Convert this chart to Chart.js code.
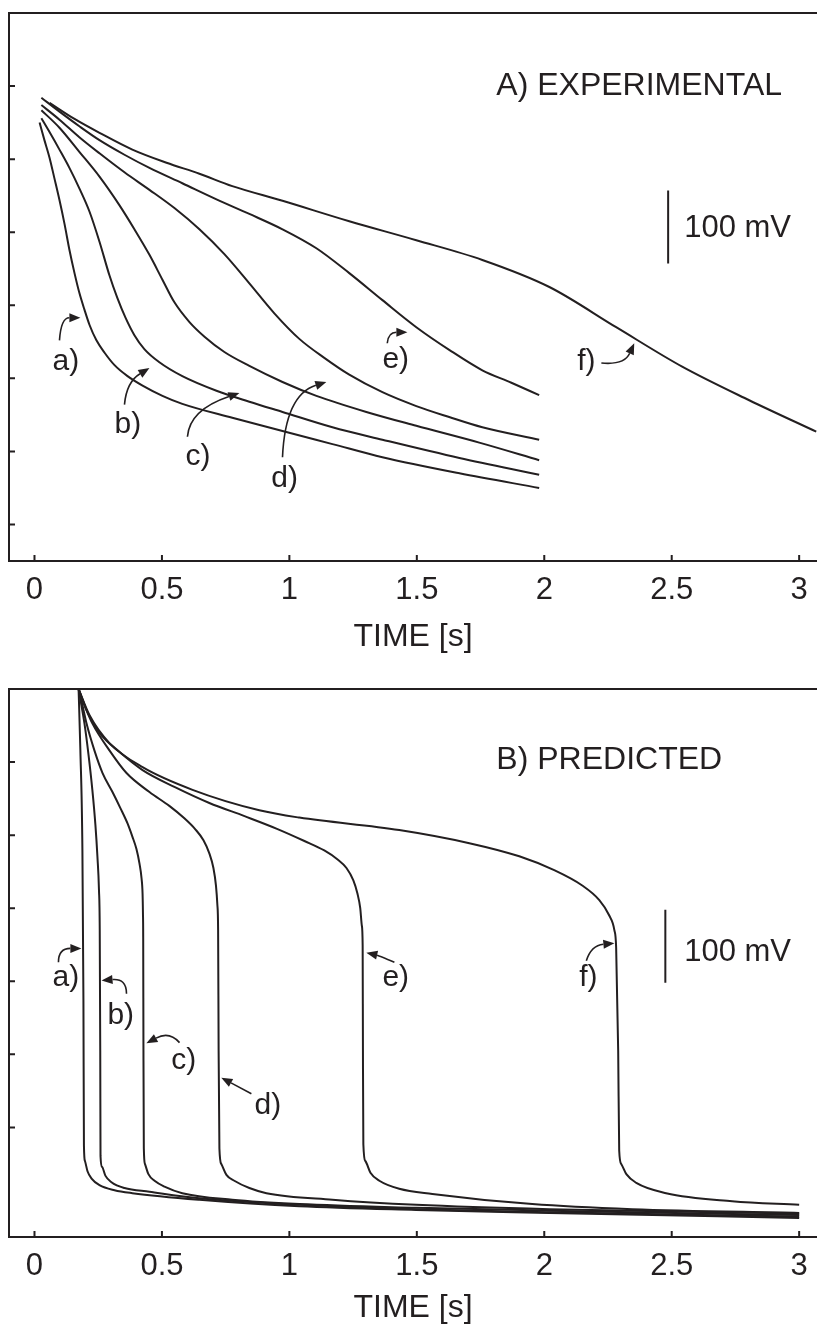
<!DOCTYPE html>
<html>
<head>
<meta charset="utf-8">
<script src="https://cdn.jsdelivr.net/npm/chart.js@4.4.1/dist/chart.umd.min.js"></script>
<style>
  body { margin: 0; background: #fff; }
  .box { position: absolute; left: 0; width: 817px; height: 665px; }
</style>
</head>
<body>
<div class="box" style="top:0"><canvas id="expChart" width="817" height="665"></canvas></div>
<div class="box" style="top:665px"><canvas id="predChart" width="817" height="665"></canvas></div>
<script>
// axis ticks
var timeTicks = [0, 0.5, 1, 1.5, 2, 2.5, 3];
var expVoltTicks = [-100, -200, -300, -400, -500, -600, -700];
var predVoltTicks = [-100, -200, -300, -400, -500, -600];

// A) experimental curves, [time s, potential mV]
var expA = [[0.020,-150],[0.039,-174],[0.059,-198],[0.078,-226],[0.098,-256],[0.118,-289],[0.137,-324],[0.157,-356],[0.176,-383],[0.196,-406],[0.216,-427],[0.243,-448],[0.275,-465],[0.314,-482],[0.365,-497],[0.424,-510],[0.502,-524],[0.580,-535],[0.776,-554],[0.973,-572],[1.169,-590],[1.365,-608],[1.667,-630],[1.980,-650]];
var expB = [[0.027,-144],[0.059,-163],[0.098,-187],[0.137,-212],[0.176,-240],[0.216,-272],[0.255,-313],[0.294,-359],[0.325,-390],[0.357,-417],[0.392,-441],[0.431,-460],[0.490,-478],[0.580,-497],[0.714,-517],[0.843,-532],[0.973,-546],[1.169,-567],[1.365,-584],[1.667,-609],[1.980,-632]];
var expC = [[0.027,-133],[0.098,-157],[0.176,-190],[0.255,-224],[0.333,-263],[0.392,-296],[0.451,-331],[0.502,-365],[0.549,-396],[0.608,-423],[0.667,-443],[0.745,-464],[0.843,-483],[0.973,-505],[1.106,-524],[1.302,-546],[1.498,-565],[1.745,-588],[1.980,-612]];
var expD = [[0.027,-126],[0.098,-146],[0.176,-170],[0.255,-192],[0.353,-218],[0.451,-242],[0.549,-267],[0.647,-296],[0.745,-330],[0.843,-370],[0.941,-411],[1.039,-446],[1.137,-472],[1.235,-495],[1.365,-519],[1.498,-538],[1.627,-553],[1.757,-567],[1.980,-584]];
var expE = [[0.027,-116],[0.098,-135],[0.176,-155],[0.255,-174],[0.353,-194],[0.451,-212],[0.580,-233],[0.714,-255],[0.843,-275],[0.973,-296],[1.106,-322],[1.235,-356],[1.365,-393],[1.498,-430],[1.627,-461],[1.757,-489],[1.871,-506],[1.980,-523]];
var expF = [[0.059,-123],[0.157,-145],[0.255,-164],[0.384,-187],[0.518,-205],[0.647,-220],[0.776,-237],[0.973,-257],[1.235,-285],[1.498,-311],[1.757,-338],[2.020,-375],[2.282,-430],[2.541,-484],[2.804,-530],[3.067,-573]];

// B) predicted curves
var predA = [[0.173,0],[0.180,-84],[0.188,-221],[0.192,-426],[0.194,-625],[0.198,-646],[0.208,-660],[0.224,-670],[0.255,-679],[0.314,-686],[0.384,-690],[0.647,-699],[1.039,-708],[1.498,-713],[2.020,-717],[3.0,-724]];
var predB = [[0.173,0],[0.184,-22],[0.196,-47],[0.212,-90],[0.227,-138],[0.239,-186],[0.247,-230],[0.253,-275],[0.256,-330],[0.258,-495],[0.259,-639],[0.265,-654],[0.278,-666],[0.302,-675],[0.353,-683],[0.451,-688],[0.647,-697],[1.039,-706],[1.498,-712],[2.020,-716],[3.0,-722]];
var predC = [[0.173,0],[0.188,-22],[0.204,-47],[0.235,-84],[0.267,-115],[0.306,-141],[0.337,-163],[0.365,-184],[0.384,-202],[0.400,-219],[0.412,-239],[0.420,-259],[0.424,-280],[0.4255,-306],[0.4265,-340],[0.4275,-495],[0.4290,-629],[0.4333,-650],[0.447,-664],[0.471,-673],[0.510,-681],[0.580,-690],[0.776,-699],[1.039,-705],[1.498,-710],[2.020,-714],[3.0,-720]];
var predD = [[0.173,0],[0.196,-22],[0.227,-47],[0.294,-84],[0.361,-115],[0.451,-141],[0.529,-160],[0.588,-177],[0.631,-192],[0.663,-207],[0.686,-225],[0.702,-245],[0.712,-269],[0.7176,-296],[0.7204,-330],[0.7224,-495],[0.7255,-629],[0.733,-650],[0.753,-665],[0.784,-673],[0.843,-683],[0.910,-690],[1.169,-699],[1.498,-706],[2.020,-712],[3.0,-718]];
var predE = [[0.173,0],[0.208,-32],[0.255,-60],[0.333,-86],[0.424,-111],[0.549,-134],[0.686,-156],[0.824,-174],[0.949,-191],[1.059,-208],[1.137,-221],[1.188,-233],[1.224,-245],[1.251,-262],[1.267,-280],[1.278,-300],[1.2843,-324],[1.2875,-351],[1.2886,-495],[1.2902,-623],[1.298,-646],[1.318,-662],[1.353,-673],[1.431,-684],[1.561,-691],[1.953,-705],[2.345,-712],[3.0,-717]];
var predF = [[0.173,0],[0.216,-36],[0.294,-74],[0.424,-107],[0.620,-138],[0.882,-166],[1.039,-176],[1.431,-193],[1.706,-211],[1.902,-229],[2.039,-248],[2.149,-269],[2.216,-289],[2.255,-310],[2.275,-330],[2.282,-354],[2.290,-495],[2.294,-632],[2.302,-650],[2.322,-664],[2.361,-676],[2.478,-690],[2.737,-701],[3.0,-706]];

// 100 mV scale bars
var expBar = [[2.486,-243],[2.486,-343]];
var predBar = [[2.475,-302],[2.475,-402]];

var ink = '#231f20';
var fontFam = '"Liberation Sans", Arial, Helvetica, sans-serif';

// text and arrow notes, in data units
var expNotes = {
  texts: [
    {t: 'A) EXPERIMENTAL', x: 1.812, y: -112, size: 32},
    {t: '100 mV', x: 2.549, y: -307, size: 31},
    {t: 'a)', x: 0.071, y: -489}, {t: 'b)', x: 0.314, y: -575},
    {t: 'c)', x: 0.592, y: -619}, {t: 'd)', x: 0.929, y: -649},
    {t: 'e)', x: 1.365, y: -486}, {t: 'f)', x: 2.129, y: -489}
  ],
  arrows: [
    [[0.098,-448],[0.104,-417],[0.180,-417]],
    [[0.353,-536],[0.361,-505],[0.451,-486]],
    [[0.600,-580],[0.608,-543],[0.804,-520]],
    [[0.973,-608],[0.984,-523],[1.145,-505]],
    [[1.384,-452],[1.388,-437],[1.463,-437]],
    [[2.224,-479],[2.314,-482],[2.353,-452]]
  ]
};
var predNotes = {
  texts: [
    {t: 'B) PREDICTED', x: 1.812, y: -110, size: 32},
    {t: '100 mV', x: 2.549, y: -372, size: 31},
    {t: 'a)', x: 0.071, y: -406}, {t: 'b)', x: 0.286, y: -458},
    {t: 'c)', x: 0.537, y: -520}, {t: 'd)', x: 0.863, y: -581},
    {t: 'e)', x: 1.365, y: -406}, {t: 'f)', x: 2.137, y: -406}
  ],
  arrows: [
    [[0.094,-374],[0.094,-355],[0.184,-355]],
    [[0.361,-417],[0.361,-396],[0.263,-399]],
    [[0.569,-484],[0.529,-468],[0.439,-485]],
    [[0.851,-554],[0.792,-543],[0.733,-532]],
    [[1.412,-374],[1.353,-365],[1.302,-361]],
    [[2.165,-372],[2.184,-351],[2.275,-348]]
  ]
};

function toXY(arr) {
  return arr.map(function (p) { return {x: p[0], y: p[1]}; });
}

// frame, inward ticks, labels and arrows
var framePlugin = {
  id: 'frame',
  afterDraw: function (chart, args, opts) {
    var ctx = chart.ctx, a = chart.chartArea;
    var xs = chart.scales.x, ys = chart.scales.y;
    ctx.save();
    ctx.strokeStyle = ink;
    ctx.lineWidth = 2;
    ctx.beginPath();
    ctx.moveTo(a.left, a.bottom);
    ctx.lineTo(a.left, a.top);
    ctx.lineTo(a.right, a.top);
    opts.yTicks.forEach(function (v) {
      var py = ys.getPixelForValue(v);
      ctx.moveTo(a.left, py);
      ctx.lineTo(a.left + 6, py);
    });
    timeTicks.forEach(function (v) {
      var px = xs.getPixelForValue(v);
      ctx.moveTo(px, a.bottom);
      ctx.lineTo(px, a.bottom - 6);
    });
    ctx.stroke();

    ctx.fillStyle = ink;
    ctx.textBaseline = 'alphabetic';
    ctx.textAlign = 'left';
    opts.notes.texts.forEach(function (n) {
      ctx.font = (n.size || 30) + 'px ' + fontFam;
      ctx.fillText(n.t, xs.getPixelForValue(n.x), ys.getPixelForValue(n.y));
    });

    ctx.lineWidth = 1.6;
    opts.notes.arrows.forEach(function (ar) {
      var p = ar.map(function (q) { return [xs.getPixelForValue(q[0]), ys.getPixelForValue(q[1])]; });
      var ang = Math.atan2(p[2][1] - p[1][1], p[2][0] - p[1][0]);
      var hl = 11, hw = 4.5;
      var bx = p[2][0] - hl * Math.cos(ang), by = p[2][1] - hl * Math.sin(ang);
      ctx.beginPath();
      ctx.moveTo(p[0][0], p[0][1]);
      ctx.quadraticCurveTo(p[1][0], p[1][1], bx, by);
      ctx.stroke();
      ctx.beginPath();
      ctx.moveTo(p[2][0], p[2][1]);
      ctx.lineTo(bx + hw * Math.sin(ang), by - hw * Math.cos(ang));
      ctx.lineTo(bx - hw * Math.sin(ang), by + hw * Math.cos(ang));
      ctx.closePath();
      ctx.fill();
    });
    ctx.restore();
  }
};

function makeSet(arr, width) {
  return {
    data: toXY(arr),
    borderColor: ink,
    borderWidth: width || 2,
    pointRadius: 0,
    fill: false,
    cubicInterpolationMode: 'monotone'
  };
}

function makeChart(id, series, bar, yTicks, notes, padTop, titlePad) {
  var sets = series.map(function (s) { return makeSet(s); });
  var barSet = makeSet(bar, 2);
  barSet.cubicInterpolationMode = 'default';
  sets.push(barSet);
  return new Chart(document.getElementById(id), {
    type: 'line',
    data: { datasets: sets },
    plugins: [framePlugin],
    options: {
      responsive: false,
      animation: false,
      devicePixelRatio: 1,
      layout: { padding: { top: padTop, left: 9, right: 0, bottom: 0 } },
      plugins: {
        legend: { display: false },
        tooltip: { enabled: false },
        frame: { yTicks: yTicks, notes: notes }
      },
      scales: {
        x: {
          type: 'linear',
          min: -0.1,
          max: 3.07,
          afterBuildTicks: function (s) { s.ticks = timeTicks.map(function (v) { return {value: v}; }); },
          afterFit: function (s) { s.height = 665 - padTop - 548; },
          grid: { display: false },
          border: { display: true, color: ink, width: 2 },
          ticks: {
            autoSkip: false, maxRotation: 0, padding: 3, color: ink,
            font: { family: fontFam, size: 31 },
            callback: function (v) { return String(v); }
          },
          title: {
            display: true, text: 'TIME [s]', color: ink,
            font: { family: fontFam, size: 32 },
            padding: { top: 0, bottom: titlePad }
          }
        },
        y: { type: 'linear', min: -750, max: 0, display: false }
      }
    }
  });
}

makeChart('expChart', [expA, expB, expC, expD, expE, expF], expBar, expVoltTicks, expNotes, 13, 9);
makeChart('predChart', [predA, predB, predC, predD, predE, predF], predBar, predVoltTicks, predNotes, 24, 3);
</script>
</body>
</html>
